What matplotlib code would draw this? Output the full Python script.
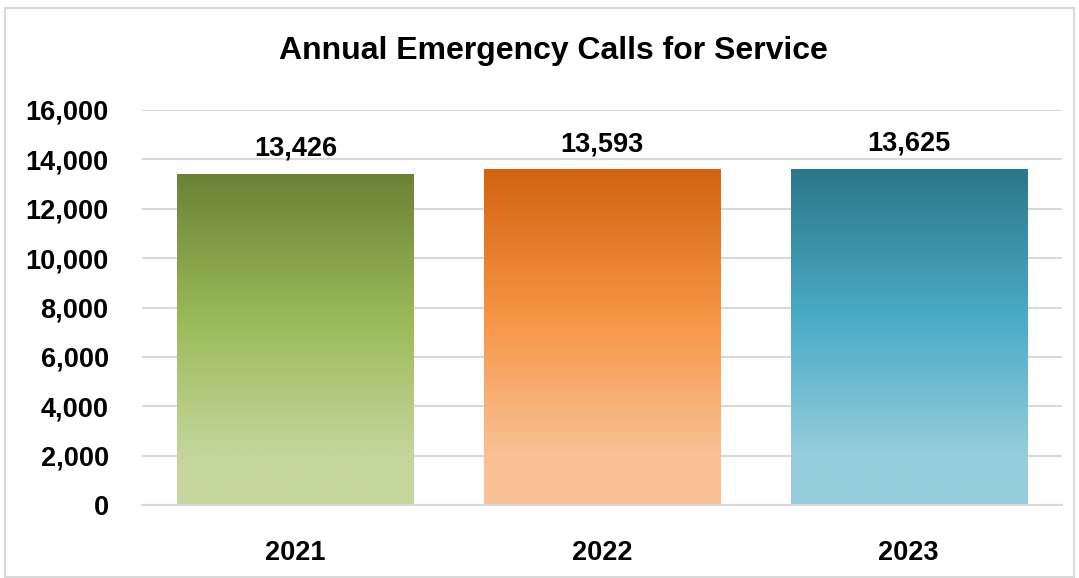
import matplotlib.pyplot as plt
import numpy as np
from matplotlib.colors import LinearSegmentedColormap
from matplotlib.patches import Rectangle

years = ["2021", "2022", "2023"]
calls = [13426, 13593, 13625]
# gradient stops per bar: top, middle, bottom
bar_colors = [
    ("#6A8236", "#9BBB59", "#C4D69C"),
    ("#D2640F", "#F79646", "#F9C195"),
    ("#2C7789", "#4BACC6", "#95CDDD"),
]
yticks = [0, 2000, 4000, 6000, 8000, 10000, 12000, 14000, 16000]

plt.rcParams['font.family'] = ['Liberation Sans', 'DejaVu Sans']

fig = plt.figure(figsize=(10.79, 5.78), dpi=100)
ax = fig.add_axes([142 / 1079, 1 - 505 / 578, 920 / 1079, 395 / 578])

x = np.arange(len(years))
bars = ax.bar(x, calls, width=0.77, color="none", zorder=3)

for b, (top, mid, bot) in zip(bars, bar_colors):
    cmap = LinearSegmentedColormap.from_list(
        "g", [(0.0, bot), (0.15, bot), (0.55, mid), (1.0, top)])
    grad = np.linspace(0, 1, 256).reshape(-1, 1)
    bx, by = b.get_x(), b.get_y()
    w, h = b.get_width(), b.get_height()
    im = ax.imshow(grad, cmap=cmap, origin="lower", aspect="auto",
                   extent=[bx, bx + w, by, by + h], zorder=3)
    im.set_clip_path(b)

for xi, v in zip(x, calls):
    ax.text(xi, v + 500, f"{v:,}", ha="center", va="bottom",
            fontsize=19.5, fontweight="bold", color="black")

ax.set_xlim(-0.5, len(years) - 0.5)
ax.set_ylim(0, 16000)
ax.set_yticks(yticks)
ax.set_yticklabels([f"{t:,}" for t in yticks], fontsize=19.5, fontweight="bold")
ax.set_xticks(x)
ax.set_xticklabels(years, fontsize=19.5, fontweight="bold")
ax.tick_params(axis="both", length=0)
ax.tick_params(axis="y", pad=24)
ax.tick_params(axis="x", pad=25)
ax.grid(axis="y", color="#D9D9D9", linewidth=1.5, zorder=0)
ax.set_axisbelow(True)
for s in ["top", "right", "left"]:
    ax.spines[s].set_visible(False)
ax.spines["bottom"].set_color("#D9D9D9")
ax.spines["bottom"].set_linewidth(1.5)
ax.spines["bottom"].set_zorder(4)

fig.text(553 / 1079, 1 - 51 / 578, "Annual Emergency Calls for Service",
         ha="center", va="center", fontsize=23, fontweight="bold")

fig.patches.append(Rectangle((5 / 1079, 1 / 578), 1069 / 1079, 569 / 578,
                             transform=fig.transFigure, fill=False,
                             edgecolor="#D9D9D9", linewidth=1.5))

fig.savefig("out.png", dpi=100)
